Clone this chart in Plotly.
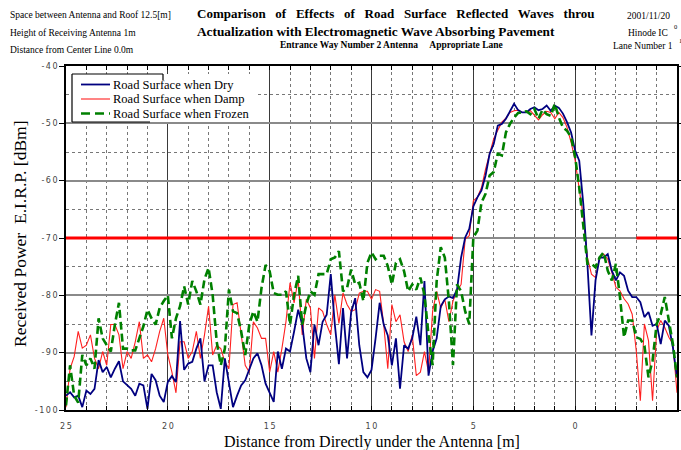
import plotly.graph_objects as go

# ---------------- data ----------------
distance_m = [
    25.0, 24.8, 24.6, 24.4, 24.2, 24.0, 23.8, 23.6, 23.4, 23.2,
    23.0, 22.8, 22.6, 22.4, 22.2, 22.0, 21.8, 21.6, 21.4, 21.2,
    21.0, 20.8, 20.6, 20.4, 20.2, 20.0, 19.8, 19.6, 19.4, 19.2,
    19.0, 18.8, 18.6, 18.4, 18.2, 18.0, 17.8, 17.6, 17.4, 17.2,
    17.0, 16.8, 16.6, 16.4, 16.2, 16.0, 15.8, 15.6, 15.4, 15.2,
    15.0, 14.8, 14.6, 14.4, 14.2, 14.0, 13.8, 13.6, 13.4, 13.2,
    13.0, 12.8, 12.6, 12.4, 12.2, 12.0, 11.8, 11.6, 11.4, 11.2,
    11.0, 10.8, 10.6, 10.4, 10.2, 10.0, 9.8, 9.6, 9.4, 9.2,
    9.0, 8.8, 8.6, 8.4, 8.2, 8.0, 7.8, 7.6, 7.4, 7.2,
    7.0, 6.8, 6.6, 6.4, 6.2, 6.0, 5.8, 5.6, 5.4, 5.2,
    5.0, 4.8, 4.6, 4.4, 4.2, 4.0, 3.8, 3.6, 3.4, 3.2,
    3.0, 2.8, 2.6, 2.4, 2.2, 2.0, 1.8, 1.6, 1.4, 1.2,
    1.0, 0.8, 0.6, 0.4, 0.2, 0.0, -0.2, -0.4, -0.6, -0.8,
    -1.0, -1.2, -1.4, -1.6, -1.8, -2.0, -2.2, -2.4, -2.6, -2.8,
    -3.0, -3.2, -3.4, -3.6, -3.8, -4.0, -4.2, -4.4, -4.6, -4.8,
    -5.0,
]

dry_dbm = [
    -97.5, -96.9, -97.8, -97.5, -99.5, -96.6, -97.2, -96.3, -91.3, -93.4,
    -92.5, -94.3, -92.8, -91.5, -95.0, -95.7, -96.3, -97.5, -95.4, -95.7,
    -99.8, -93.7, -94.8, -97.5, -98.6, -95.1, -94.1, -95.1, -84.5, -93.0,
    -91.9, -91.6, -89.3, -87.5, -95.0, -92.2, -92.2, -96.9, -99.8, -91.0,
    -95.1, -99.5, -97.5, -95.7, -94.8, -92.8, -91.0, -90.1, -92.2, -95.4,
    -96.9, -98.6, -89.8, -92.8, -89.3, -89.8, -86.3, -82.5, -85.1, -91.0,
    -93.4, -85.1, -88.7, -84.6, -83.4, -76.3, -85.1, -92.0, -82.2, -91.0,
    -83.0, -80.5, -88.7, -93.4, -94.3, -93.0, -87.5, -81.3, -85.1, -87.0,
    -92.2, -87.5, -96.3, -88.7, -89.3, -87.5, -83.7, -88.7, -77.5, -94.0,
    -89.8, -87.5, -81.9, -80.7, -80.2, -80.5, -79.0, -73.4, -69.9, -68.4,
    -64.5, -62.9, -61.7, -59.1, -55.3, -53.6, -50.4, -50.1, -49.2, -47.8,
    -46.6, -47.7, -48.1, -48.1, -47.5, -47.2, -47.7, -47.5, -46.9, -47.8,
    -46.9, -47.3, -48.3, -49.8, -51.6, -54.8, -56.5, -64.1, -74.5, -87.0,
    -77.4, -73.4, -73.4, -72.8, -75.7, -77.4, -76.0, -76.6, -79.2, -80.3,
    -80.3, -81.2, -83.8, -82.9, -85.3, -85.0, -88.5, -84.4, -85.3, -89.1,
    -94.3,
]

damp_dbm = [
    -99.5, -92.8, -90.7, -86.3, -89.2, -88.7, -86.9, -91.0, -92.8, -89.8,
    -92.2, -85.1, -85.1, -86.9, -92.8, -89.8, -91.0, -88.1, -84.6, -91.0,
    -90.4, -91.6, -89.3, -86.3, -84.0, -90.4, -93.4, -97.0, -88.1, -88.1,
    -91.0, -89.8, -86.3, -91.0, -86.9, -81.9, -90.4, -88.7, -89.3, -91.6,
    -92.8, -81.6, -81.3, -86.9, -92.2, -93.4, -84.6, -85.7, -87.5, -87.5,
    -93.4, -89.8, -93.4, -89.3, -84.6, -77.8, -81.3, -77.2, -86.9, -80.7,
    -82.2, -91.0, -82.2, -82.8, -85.1, -86.9, -79.9, -84.9, -79.6, -81.6,
    -82.8, -82.5, -79.6, -79.3, -79.3, -80.7, -79.0, -79.3, -85.1, -92.8,
    -81.6, -84.6, -83.4, -88.1, -89.8, -86.9, -94.0, -93.4, -89.8, -93.4,
    -82.8, -79.3, -82.2, -80.7, -84.6, -81.0, -79.3, -78.1, -70.2, -69.6,
    -63.5, -62.9, -61.2, -58.0, -55.1, -52.7, -51.2, -49.8, -49.1, -48.1,
    -47.8, -47.7, -48.1, -48.1, -47.8, -48.7, -49.4, -48.5, -47.9, -48.1,
    -49.2, -48.1, -49.0, -50.7, -53.3, -56.5, -61.7, -66.4, -73.4, -76.3,
    -76.9, -73.4, -72.8, -73.7, -76.0, -78.6, -79.2, -80.6, -81.5, -83.3,
    -89.7, -98.4, -85.0, -87.9, -98.4, -86.2, -84.4, -85.6, -87.3, -88.5,
    -97.0,
]

frozen_dbm = [
    -99.2, -92.2, -97.5, -98.7, -90.4, -92.2, -91.0, -92.8, -84.0, -87.5,
    -88.7, -89.8, -85.1, -81.3, -89.3, -89.3, -89.6, -89.6, -87.5, -85.4,
    -82.5, -84.0, -85.1, -82.2, -81.0, -80.0, -87.5, -84.0, -81.9, -78.4,
    -81.6, -77.5, -79.3, -81.6, -77.2, -75.2, -79.9, -88.1, -92.2, -89.3,
    -79.0, -82.8, -83.1, -86.3, -90.4, -85.1, -82.8, -84.6, -78.7, -74.7,
    -75.8, -79.6, -79.9, -79.9, -79.3, -85.1, -79.9, -76.6, -85.1, -81.6,
    -79.3, -79.9, -76.3, -76.3, -76.3, -73.7, -73.4, -72.3, -79.3, -78.7,
    -75.5, -78.1, -77.8, -81.0, -74.3, -72.5, -73.7, -73.1, -73.1, -74.9,
    -78.1, -74.3, -73.7, -75.8, -79.3, -78.1, -79.0, -76.9, -79.9, -86.9,
    -92.2, -77.5, -71.6, -73.4, -81.0, -92.2, -78.1, -79.3, -82.8, -85.0,
    -69.9, -68.7, -63.8, -62.3, -59.1, -58.5, -55.3, -55.6, -51.6, -50.1,
    -49.0, -48.2, -48.1, -47.9, -48.4, -47.5, -49.2, -47.6, -48.4, -48.7,
    -46.6, -49.0, -50.7, -51.3, -52.4, -55.9, -61.2, -67.6, -74.5, -74.5,
    -75.1, -73.4, -72.5, -75.7, -77.4, -74.5, -80.3, -87.3, -84.4, -84.4,
    -87.3, -87.6, -88.8, -94.3, -91.4, -85.0, -83.3, -80.3, -84.4, -88.5,
    -94.3,
]

threshold_dbm = -70
threshold_segments = [(25, 6), (-3, -5)]

x_ticks = [25, 20, 15, 10, 5, 0, -5]
y_ticks = [-40, -50, -60, -70, -80, -90, -100]

series_names = ["Road Surface when Dry", "Road Surface when Damp", "Road Surface when Frozen"]

# ---------------- styles ----------------
DRY = dict(color="#000080", width=1.8)
DAMP = dict(color="#FF2020", width=1.1)
FROZEN = dict(color="#008000", width=2.6, dash="8px,4px")

W, H = 681, 450
L, R, T, B = 66, 4, 66, 40
PW, PH = W - L - R, H - T - B


def px_x(p):
    return (p - L) / PW


def px_y(p):
    return (H - B - p) / PH


def spaced(v):
    return "\u2009".join(str(v))


SERIF = "Liberation Serif"

fig = go.Figure()

thr_x, thr_y = [], []
for a, b in threshold_segments:
    thr_x += [a, b, None]
    thr_y += [threshold_dbm, threshold_dbm, None]
fig.add_trace(go.Scatter(x=thr_x, y=thr_y, mode="lines", showlegend=False,
                         line=dict(color="#FF0000", width=3), hoverinfo="skip"))

fig.add_trace(go.Scatter(x=distance_m, y=damp_dbm, mode="lines", name=series_names[1],
                         showlegend=False, line=DAMP))
fig.add_trace(go.Scatter(x=distance_m, y=dry_dbm, mode="lines", name=series_names[0],
                         showlegend=False, line=DRY))
fig.add_trace(go.Scatter(x=distance_m, y=frozen_dbm, mode="lines", name=series_names[2],
                         showlegend=False, line=FROZEN))

tickfont = dict(family="DejaVu Sans", size=8, color="#444444")

fig.update_xaxes(
    range=[25, -5], autorange=False, automargin=False,
    tickvals=x_ticks, ticktext=[spaced(v) for v in x_ticks], tickfont=tickfont,
    ticks="inside", ticklen=4, tickcolor="black", ticklabelstandoff=8,
    showline=True, linecolor="black", linewidth=1.5, mirror="ticks",
    showgrid=True, gridcolor="#3a3a3a", gridwidth=1.2,
    minor=dict(dtick=1, showgrid=True, gridcolor="#777777", gridwidth=1, griddash="dot",
               ticks="inside", ticklen=4, tickcolor="black"),
    zeroline=False,
)
fig.update_yaxes(
    range=[-100, -40], autorange=False, automargin=False,
    tickvals=y_ticks, ticktext=[spaced(v) for v in y_ticks], tickfont=tickfont,
    ticks="outside", ticklen=5, tickcolor="black",
    showline=True, linecolor="black", linewidth=1.5, mirror="ticks",
    showgrid=True, gridcolor="#8a8a8a", gridwidth=2,
    minor=dict(dtick=5, showgrid=True, gridcolor="#777777", gridwidth=1, griddash="dot",
               ticks="", ticklen=3),
    zeroline=False,
)

ann = []


def add_text(text, x, y, size, xanchor="left", bold=False, angle=0, family=SERIF):
    ann.append(dict(text=("<b>%s</b>" % text) if bold else text, x=px_x(x), y=px_y(y),
                    xref="paper", yref="paper", xanchor=xanchor, yanchor="middle",
                    showarrow=False, textangle=angle,
                    font=dict(family=family, size=size, color="black")))


add_text("Space between Antenna and Roof 12.5[m]", 8, 15, 9.5)
add_text("Height of Receiving Antenna 1m", 8, 33, 9.5)
add_text("Distance from Center Line 0.0m", 8, 50, 9.5)

gap = "\u00a0\u00a0 "
add_text(gap.join("Comparison of Effects of Road Surface Reflected Waves throu".split(" ")),
         195, 14, 13, bold=True)
add_text("Actualization with Electromagnetic Wave Absorbing Pavement", 195, 31, 13.3, bold=True)
add_text("Entrance Way Number 2 Antenna\u00a0\u00a0\u00a0\u00a0 Appropriate Lane", 391, 45, 9.5,
         xanchor="center", bold=True)

add_text("2001/11/20", 672, 16, 9.5, xanchor="right")
add_text("Hinode IC", 670, 33, 9.5, xanchor="right")
add_text("0", 675, 26, 6.5, xanchor="center")
add_text("1", 680, 40, 6.5, xanchor="center")
add_text("Lane Number 1", 675, 46, 9.5, xanchor="right")

add_text("Received Power\u00a0 E.I.R.P. [dBm]", 20, 234, 17.5, xanchor="center", angle=-90)
add_text("Distance from Directly under the Antenna [m]", 371.5, 441.5, 16, xanchor="center")

# ---------------- hand-drawn legend (as in the reference) ----------------
shapes = []


def pline(x0, y0, x1, y1, line):
    shapes.append(dict(type="line", xref="paper", yref="paper", layer="above",
                       x0=px_x(x0), y0=px_y(y0), x1=px_x(x1), y1=px_y(y1), line=line))


shapes.append(dict(type="rect", xref="paper", yref="paper", layer="above",
                   x0=px_x(72), y0=px_y(122), x1=px_x(258), y1=px_y(74),
                   fillcolor="white", line=dict(width=0)))
border = dict(color="black", width=1.2)
pline(72, 74, 163, 74, border)
pline(72, 74, 72, 122, border)
pline(72, 122, 150, 122, border)
pline(163, 74, 163, 80, border)

legend_rows = [(series_names[0], DRY, 84.5), (series_names[1], DAMP, 99), (series_names[2], FROZEN, 113.5)]
for name, style, yy in legend_rows:
    st = dict(style)
    if "dash" in st:
        st["dash"] = "9px,5px"
    pline(81, yy, 110, yy, st)
    add_text(name, 111, yy, 12.5)

fig.update_layout(
    width=W, height=H,
    margin=dict(l=L, r=R, t=T, b=B, autoexpand=False),
    paper_bgcolor="white", plot_bgcolor="white",
    annotations=ann, shapes=shapes,
    showlegend=False,
    hovermode=False,
)

fig.write_html("out.html", config={"displayModeBar": False},
               post_script="document.body.style.margin='0px';document.body.style.overflow='hidden';")
